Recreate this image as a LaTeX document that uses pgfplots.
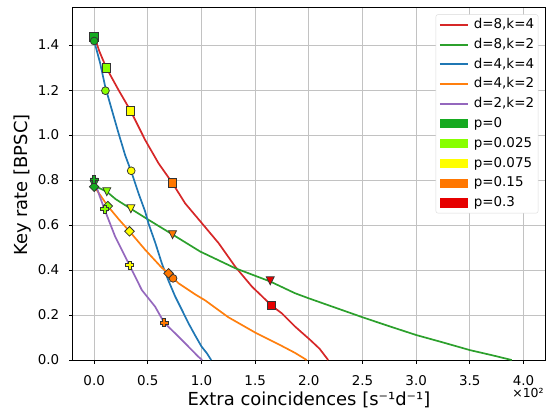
\documentclass[border=0pt]{standalone}
\usepackage{fontspec}
\setmainfont{DejaVu Sans}
\usepackage{pgfplots}
\usepackage{pgfplotstable}
\pgfplotsset{compat=1.18}

\definecolor{cred}{HTML}{D62728}
\definecolor{cgreen}{HTML}{2CA02C}
\definecolor{cblue}{HTML}{1F77B4}
\definecolor{corange}{HTML}{FF7F0E}
\definecolor{cpurple}{HTML}{9467BD}
\definecolor{pA}{RGB}{22,170,32}
\definecolor{pB}{RGB}{136,255,0}
\definecolor{pC}{RGB}{255,255,0}
\definecolor{pD}{RGB}{255,119,0}
\definecolor{pE}{RGB}{230,0,0}

\pgfdeclareplotmark{Pfill}{%
  \pgfpathmoveto{\pgfqpoint{-0.36\pgfplotmarksize}{\pgfplotmarksize}}%
  \pgfpathlineto{\pgfqpoint{0.36\pgfplotmarksize}{\pgfplotmarksize}}%
  \pgfpathlineto{\pgfqpoint{0.36\pgfplotmarksize}{0.36\pgfplotmarksize}}%
  \pgfpathlineto{\pgfqpoint{\pgfplotmarksize}{0.36\pgfplotmarksize}}%
  \pgfpathlineto{\pgfqpoint{\pgfplotmarksize}{-0.36\pgfplotmarksize}}%
  \pgfpathlineto{\pgfqpoint{0.36\pgfplotmarksize}{-0.36\pgfplotmarksize}}%
  \pgfpathlineto{\pgfqpoint{0.36\pgfplotmarksize}{-\pgfplotmarksize}}%
  \pgfpathlineto{\pgfqpoint{-0.36\pgfplotmarksize}{-\pgfplotmarksize}}%
  \pgfpathlineto{\pgfqpoint{-0.36\pgfplotmarksize}{-0.36\pgfplotmarksize}}%
  \pgfpathlineto{\pgfqpoint{-\pgfplotmarksize}{-0.36\pgfplotmarksize}}%
  \pgfpathlineto{\pgfqpoint{-\pgfplotmarksize}{0.36\pgfplotmarksize}}%
  \pgfpathlineto{\pgfqpoint{-0.36\pgfplotmarksize}{0.36\pgfplotmarksize}}%
  \pgfpathclose
  \pgfusepathqfillstroke}
\pgfdeclareplotmark{Dmark}{%
  \pgfpathmoveto{\pgfqpoint{0pt}{\pgfplotmarksize}}%
  \pgfpathlineto{\pgfqpoint{\pgfplotmarksize}{0pt}}%
  \pgfpathlineto{\pgfqpoint{0pt}{-\pgfplotmarksize}}%
  \pgfpathlineto{\pgfqpoint{-\pgfplotmarksize}{0pt}}%
  \pgfpathclose
  \pgfusepathqfillstroke}
\pgfdeclareplotmark{Vmark}{%
  \pgfpathmoveto{\pgfqpoint{0pt}{-\pgfplotmarksize}}%
  \pgfpathlineto{\pgfqpoint{\pgfplotmarksize}{\pgfplotmarksize}}%
  \pgfpathlineto{\pgfqpoint{-\pgfplotmarksize}{\pgfplotmarksize}}%
  \pgfpathclose
  \pgfusepathqfillstroke}

% curves
\pgfplotstableread{
x y
0 1.440
0.05 1.370
0.112 1.300
0.227 1.200
0.339 1.108
0.475 0.978
0.600 0.874
0.727 0.788
0.848 0.696
1.000 0.610
1.160 0.519
1.314 0.415
1.470 0.326
1.560 0.285
1.650 0.243
1.749 0.207
1.873 0.148
2.013 0.089
2.100 0.050
2.180 0.000
}\dRed
\pgfplotstableread{
x y
0 0.775
0.118 0.748
0.200 0.715
0.342 0.672
0.500 0.625
0.733 0.557
0.988 0.482
1.314 0.408
1.640 0.349
1.870 0.297
2.000 0.274
2.250 0.232
2.500 0.190
2.750 0.150
3.000 0.111
3.250 0.078
3.500 0.044
3.700 0.022
3.890 0.000
}\dGreen
\pgfplotstableread{
x y
0 1.418
0.056 1.319
0.103 1.215
0.165 1.111
0.227 1.008
0.289 0.910
0.351 0.830
0.413 0.741
0.475 0.660
0.506 0.607
0.570 0.520
0.630 0.430
0.690 0.355
0.755 0.282
0.820 0.220
0.879 0.163
0.940 0.110
1.000 0.060
1.050 0.030
1.090 0.000
}\dBlue
\pgfplotstableread{
x y
0 0.772
0.127 0.684
0.230 0.625
0.329 0.572
0.475 0.490
0.630 0.410
0.693 0.385
0.786 0.341
0.940 0.292
1.034 0.265
1.250 0.190
1.500 0.122
1.750 0.062
1.870 0.032
1.980 0.000
}\dOrange
\pgfplotstableread{
x y
0 0.800
0.050 0.730
0.096 0.670
0.196 0.548
0.320 0.430
0.444 0.311
0.568 0.237
0.652 0.166
0.786 0.104
0.910 0.044
0.970 0.015
1.006 0.000
}\dPurple

% markers
\pgfplotstableread{
x y p
0 1.437 a
0.112 1.299 b
0.339 1.108 c
0.727 0.788 d
1.650 0.243 e
}\mRed
\pgfplotstableread{
x y p
0 1.418 a
0.105 1.197 b
0.345 0.841 c
0.735 0.363 d
}\mBlue
\pgfplotstableread{
x y p
0 0.780 a
0.118 0.748 b
0.342 0.672 c
0.730 0.557 d
1.640 0.352 e
}\mGreen
\pgfplotstableread{
x y p
0 0.770 a
0.127 0.684 b
0.329 0.572 c
0.693 0.385 d
}\mOrange
\pgfplotstableread{
x y p
0 0.803 a
0.096 0.670 b
0.329 0.422 c
0.652 0.166 d
}\mPurple

\pgfplotsset{
  pclasses/.style={
    scatter, scatter src=explicit symbolic, only marks, forget plot,
    scatter/classes={
      a={draw=black!80, fill=pA},
      b={draw=black!80, fill=pB},
      c={draw=black!80, fill=pC},
      d={draw=black!80, fill=pD},
      e={draw=black!80, fill=pE}},
    mark options={line width=0.75bp}
  },
  lineleg/.style={legend image code/.code={\draw[##1, line width=1.9bp, sharp corners] (0bp,0bp) -- (28bp,0bp);}},
  patchleg/.style={legend image code/.code={\fill[##1, draw=none, sharp corners] (0bp,-4.6bp) rectangle (28bp,4.6bp);}},
}

\begin{document}
\begin{tikzpicture}
\begin{axis}[
  at={(0,0)}, anchor=south west,
  scale only axis, width=472.3bp, height=353bp,
  xmin=-0.2, xmax=4.2, ymin=0, ymax=1.569,
  xtick={0,0.5,1,1.5,2,2.5,3,3.5,4},
  ytick={0,0.2,0.4,0.6,0.8,1.0,1.2,1.4},
  scaled x ticks=false, scaled y ticks=false,
  grid=major, major grid style={color=black!24, line width=0.8bp},
  axis line style={line width=0.8bp, black},
  tick align=outside, major tick length=3.5bp,
  tick style={black, line width=0.8bp},
  xtick pos=bottom, ytick pos=left,
  tick label style={font=\fontsize{13.5}{16}\selectfont,
    /pgf/number format/fixed, /pgf/number format/fixed zerofill,
    /pgf/number format/precision=1, /pgf/number format/assume math mode=true},
  xticklabel style={anchor=north, inner sep=0pt, yshift=-11.7bp},
  yticklabel style={anchor=east, inner sep=0pt, xshift=-9.7bp},
  legend style={at={(0.9858,0.979)}, anchor=north east,
    draw=black!15, rounded corners=2bp, fill=white,
    font=\fontsize{13.5}{15}\selectfont,
    inner xsep=3bp, inner ysep=2.8bp, row sep=5.1bp,
    /tikz/every odd column/.append style={column sep=4bp},
    nodes={inner sep=1bp, text height=10bp, text depth=2.7bp}},
  legend cell align=left,
  lineleg,
]
\addplot[cred, line width=1.7bp] table {\dRed};
\addlegendentry{d=8,k=4}
\addplot[cgreen, line width=1.7bp] table {\dGreen};
\addlegendentry{d=8,k=2}
\addplot[cblue, line width=1.7bp] table {\dBlue};
\addlegendentry{d=4,k=4}
\addplot[corange, line width=1.7bp] table {\dOrange};
\addlegendentry{d=4,k=2}
\addplot[cpurple, line width=1.7bp] table {\dPurple};
\addlegendentry{d=2,k=2}

\addplot[pclasses, mark=square*, mark size=4.3bp] table[meta=p] {\mRed};
\addplot[pclasses, mark=*, mark size=3.9bp] table[meta=p] {\mBlue};
\addplot[pclasses, mark=Vmark, mark size=4bp] table[meta=p] {\mGreen};
\addplot[pclasses, mark=Dmark, mark size=4.8bp] table[meta=p] {\mOrange};
\addplot[pclasses, mark=Pfill, mark size=4bp] table[meta=p] {\mPurple};

\addlegendimage{patchleg, fill=pA}
\addlegendentry{p=0}
\addlegendimage{patchleg, fill=pB}
\addlegendentry{p=0.025}
\addlegendimage{patchleg, fill=pC}
\addlegendentry{p=0.075}
\addlegendimage{patchleg, fill=pD}
\addlegendentry{p=0.15}
\addlegendimage{patchleg, fill=pE}
\addlegendentry{p=0.3}
\end{axis}
\node[rotate=90, font=\fontsize{18}{21}\selectfont] at (-49.7bp,175bp) {Key rate [BPSC]};
\node[anchor=base, font=\fontsize{18}{21}\selectfont] at (236.2bp,-45bp) {Extra coincidences [s⁻¹d⁻¹]};
\node[font=\fontsize{12.5}{15}\selectfont] at (455.3bp,-33bp) {×10²};
\pgfresetboundingbox
\path (-72.7bp,-48bp) rectangle (475.3bp,360bp);
\end{tikzpicture}
\end{document}
